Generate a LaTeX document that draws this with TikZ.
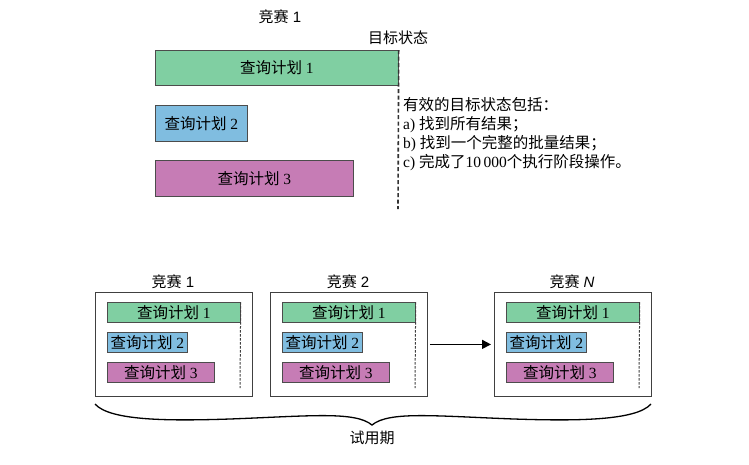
\documentclass[tikz,border=0pt]{standalone}
\usepackage{fontspec}
\setmainfont{Liberation Serif}
\setsansfont{Liberation Sans}
\newfontfamily\cjk{Noto Sans CJK SC}
\usetikzlibrary{arrows.meta}

\definecolor{greenA}{HTML}{80CFA2}
\definecolor{blueA}{HTML}{80BDE0}
\definecolor{pinkA}{HTML}{C67CB5}

\tikzset{
  plan/.style={draw=black!70, line width=0.7pt, inner sep=0pt, anchor=north west,
    font=\fontsize{15.5}{17}\selectfont},
  planA/.style={plan, fill=greenA},
  planB/.style={plan, fill=blueA},
  planC/.style={plan, fill=pinkA},
  title/.style={font=\sffamily\fontsize{15}{17}\selectfont, text=black},
  goal/.style={dash pattern=on 4pt off 2.5pt, line width=1.6pt, black!80},
}

\begin{document}
\begin{tikzpicture}[x=1pt,y=-1pt]
    \useasboundingbox (0,0) rectangle (749,464);
    % upper part: one contest
    \node[title] (race) at (280,17) {{\cjk 竞赛} 1};
    \node[title] (target) at (398,38) {\cjk 目标状态};
    \node[planA, minimum width=243pt, minimum height=35pt] (top1) at (155,50) {{\cjk 查询计划} 1};
    \node[planB, minimum width=92pt, minimum height=36pt] (top2) at (155,105) {{\cjk 查询计划} 2};
    \node[planC, minimum width=198pt, minimum height=36pt] (top3) at (155,160) {{\cjk 查询计划} 3};
    \coordinate (gend) at (398,209);
    \draw[goal] (top1.north east) -- (gend);
    \node[anchor=north west, align=left, inner sep=0pt, font=\fontsize{15.5}{19}\selectfont] (note) at (403,97)
      {{\cjk 有效的目标状态包括：}\\
       a) {\cjk 找到所有结果；}\\
       b) {\cjk 找到一个完整的批量结果；}\\
       c) {\cjk 完成了}10\,000{\cjk 个执行阶段操作。}};
    % lower part: the trial period
    \foreach \x/\t/\n in {95/1/a, 270/2/b, 494/\textit{N}/n}{
      \node[title] (race\n) at (\x+78,282) {{\cjk 竞赛} \t};
      \node[draw=black!75, line width=0.8pt, inner sep=0pt, anchor=north west,
        minimum width=157pt, minimum height=104pt] (box\n) at (\x,292) {};
      \node[planA, minimum width=133pt, minimum height=20pt] (p1\n) at (\x+12,302) {{\cjk 查询计划} 1};
      \node[planB, minimum width=80pt, minimum height=20pt] (p2\n) at (\x+12,332) {{\cjk 查询计划} 2};
      \node[planC, minimum width=107pt, minimum height=20pt] (p3\n) at (\x+12,362) {{\cjk 查询计划} 3};
      \coordinate (end\n) at (\x+145,388);
      \draw[dash pattern=on 2.5pt off 1.5pt, line width=1pt, black!75] (p1\n.north east) -- (end\n);
    }
    \draw[-{Triangle[length=9pt,width=9pt]}, line width=1.5pt, shorten <=2pt, shorten >=3pt] (boxb.east) -- (boxn.west);
    % brace under the three contests
    \coordinate (bl) at (95,404);
    \coordinate (br) at (651,404);
    \coordinate (tip) at (372,425);
    \draw[line width=1.3pt] (bl) .. controls (110,421) and (170,421) .. (230,419)
      .. controls (310,416) and (355,411) .. (tip)
      .. controls (389,411) and (434,416) .. (514,419)
      .. controls (574,421) and (636,421) .. (br);
    \node[title] (trial) at (372,438) {\cjk 试用期};
\end{tikzpicture}
\end{document}
